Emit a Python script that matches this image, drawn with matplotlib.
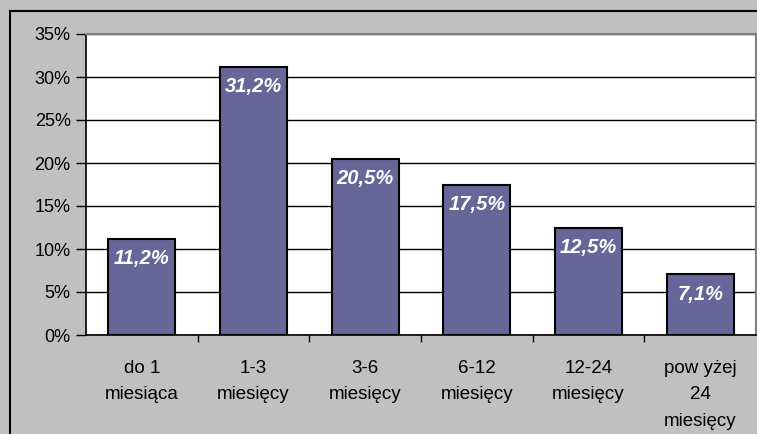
import matplotlib
matplotlib.use("Agg")
import matplotlib.pyplot as plt
from matplotlib.lines import Line2D
from matplotlib.ticker import FixedLocator, FuncFormatter

categories = ["do 1\nmiesiąca", "1-3\nmiesięcy", "3-6\nmiesięcy", "6-12\nmiesięcy",
              "12-24\nmiesięcy", "pow yżej\n24\nmiesięcy"]
values = [11.2, 31.2, 20.5, 17.5, 12.5, 7.1]
bar_labels = ["11,2%", "31,2%", "20,5%", "17,5%", "12,5%", "7,1%"]
yticks = [0, 5, 10, 15, 20, 25, 30, 35]

plt.rcParams['font.family'] = ['Liberation Sans', 'DejaVu Sans']

W, H = 757, 434
fig = plt.figure(figsize=(W / 100, H / 100), dpi=100)
fig.patch.set_facecolor('#C0C0C0')

ax = fig.add_axes([86 / W, 1 - 335 / H, (756 - 86) / W, (335 - 34) / H])
ax.set_facecolor('white')

x = list(range(len(categories)))
ax.bar(x, values, width=0.6, color='#666699', edgecolor='black', linewidth=1.5, zorder=3)

ax.set_xlim(-0.5, len(categories) - 0.5)
ax.set_ylim(0, 35)
ax.set_yticks(yticks)
ax.yaxis.set_major_formatter(FuncFormatter(lambda v, p: f"{int(v)}%"))
ax.grid(axis='y', color='black', linewidth=1.0, zorder=1)
ax.tick_params(axis='y', direction='out', length=7, width=1, labelsize=13, pad=4, color='black')

ax.set_xticks(x)
ax.set_xticklabels(categories, fontsize=13.5, linespacing=1.72)
ax.tick_params(axis='x', which='major', length=0, pad=18)
ax.xaxis.set_minor_locator(FixedLocator([i + 0.5 for i in range(len(categories) - 1)]))
ax.tick_params(axis='x', which='minor', direction='out', length=5, width=1, color='black')

for s in ['top', 'right']:
    ax.spines[s].set_color('#808080')
    ax.spines[s].set_linewidth(1.5)
for s in ['left', 'bottom']:
    ax.spines[s].set_color('black')
    ax.spines[s].set_linewidth(1.2)

for xi, v, lab in zip(x, values, bar_labels):
    ax.annotate(lab, (xi, v), xytext=(0, -14.5), textcoords='offset points',
                ha='center', va='center', color='white', fontsize=14.5,
                fontweight='bold', fontstyle='italic', zorder=4)

# outer chart border (left and top)
fig.add_artist(Line2D([10 / W, 10 / W], [0, 1 - 11 / H], transform=fig.transFigure,
                      color='black', linewidth=1.5))
fig.add_artist(Line2D([10 / W, 1], [1 - 11 / H, 1 - 11 / H], transform=fig.transFigure,
                      color='black', linewidth=1.5))

fig.savefig('out.png', dpi=100, facecolor=fig.get_facecolor())
